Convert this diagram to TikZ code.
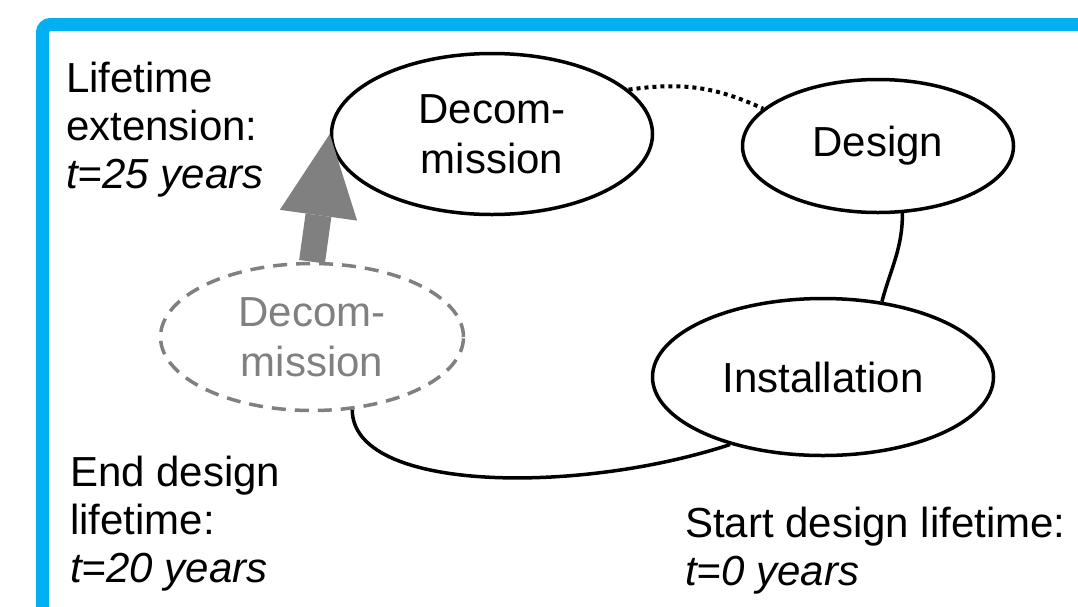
\documentclass[tikz,border=0pt]{standalone}
\usepackage{fontspec}
\setmainfont{Liberation Sans}
\usetikzlibrary{shapes.geometric,arrows.meta}
\definecolor{frameblue}{RGB}{0,176,240}
\definecolor{ghostgray}{RGB}{128,128,128}
\begin{document}
\begin{tikzpicture}[x=1pt,y=-1pt,
  phase/.style={ellipse, draw=black, line width=3.5pt, inner sep=0pt, align=center,
    font=\fontsize{42}{50}\selectfont},
  ghostphase/.style={phase, draw=ghostgray, text=ghostgray, line width=3.5pt,
    dash pattern=on 14pt off 9pt},
  lbl/.style={inner sep=0pt, align=left, anchor=base west,
    font=\fontsize{42}{48}\selectfont},
  conn/.style={draw=black, line width=3.5pt},
  dotconn/.style={conn, line width=4pt, dash pattern=on 4pt off 4pt},
  bigarrow/.style={draw=ghostgray, line width=26pt,
    -{Triangle[width=78pt,length=82pt,line width=0pt,fill=ghostgray]}}]
\useasboundingbox (0,0) rectangle (1078,606);
\clip (0,0) rectangle (1078,606);
% frame
\draw[frameblue, line width=13pt, rounded corners=8pt] (42.5,24.5) rectangle (1130,680);
% phases
\node[phase, minimum width=321pt, minimum height=161pt] (dec) at (492,134) {Decom-\\mission};
\node[phase, minimum width=271pt, minimum height=133pt] (des) at (878,146) {Design};
\node[phase, minimum width=341pt, minimum height=157pt] (ins) at (823,377) {Installation};
\node[ghostphase, minimum width=303pt, minimum height=147pt] (ghost) at (312,337) {Decom-\\mission};
% connectors
\draw[dotconn] (dec.18) to[out=8,in=155] (des.162);
\draw[conn] (des.-70) to[out=-90,in=75] (ins.52);
\draw[conn] (ghost.-61) .. controls +(0,83) and +(-152,50) .. (ins.216);
\draw[bigarrow] (ghost.north) -- (dec.west);
% labels (anchored at the baseline of the last line)
\node[lbl] (ext) at (66,188) {Lifetime\\extension:\\\textit{t=25 years}};
\node[lbl] (endl) at (70,582) {End design\\lifetime:\\\textit{t=20 years}};
\node[lbl] (startl) at (685,585) {Start design lifetime:\\\textit{t=0 years}};
\end{tikzpicture}
\end{document}
